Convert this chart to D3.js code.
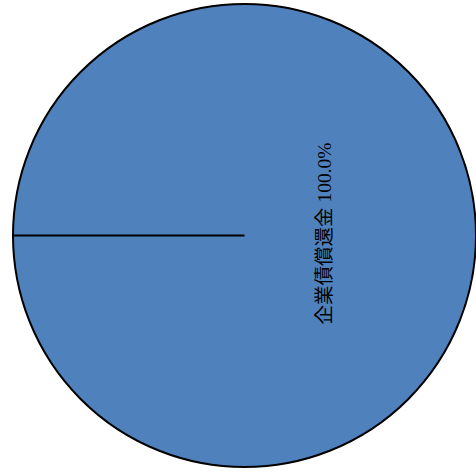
<!DOCTYPE html>
<html>
<head>
<meta charset="utf-8">
<script src="https://cdn.jsdelivr.net/npm/d3@7"></script>
<style>
  html, body { margin: 0; padding: 0; background: #fff; }
</style>
</head>
<body>
<div id="chart"></div>
<script>
const categories = ["企業債償還金"];
const values = [100.0];

const width = 476, height = 472;
const cx = 244.5, cy = 235.5, radius = 231.5;

const svg = d3.select("#chart").append("svg")
  .attr("width", width)
  .attr("height", height);

const g = svg.append("g").attr("transform", `translate(${cx},${cy})`);

const total = d3.sum(values);
const pie = d3.pie()
  .sort(null)
  .startAngle(-Math.PI / 2)
  .endAngle(3 * Math.PI / 2);

const arcs = pie(values);
const arc = d3.arc().innerRadius(0).outerRadius(radius);

g.selectAll("path")
  .data(arcs)
  .join("path")
  .attr("d", arc)
  .attr("fill", "#4f81bd")
  .attr("stroke", "#000")
  .attr("stroke-width", 2);

// slice boundaries (full circle -> only start edge shows)
g.selectAll("line.edge")
  .data(arcs)
  .join("line")
  .attr("class", "edge")
  .attr("x1", 0).attr("y1", 0)
  .attr("x2", (d) => d3.pointRadial(d.startAngle, radius)[0])
  .attr("y2", (d) => d3.pointRadial(d.startAngle, radius)[1])
  .attr("stroke", "#000")
  .attr("stroke-width", 2);

// labels, rotated along the radius
g.selectAll("text")
  .data(arcs)
  .join("text")
  .attr("transform", (d) => {
    const [x, y] = d3.pointRadial((d.startAngle + d.endAngle) / 2, radius * 0.345);
    return `translate(${x},${y - 2}) rotate(-90)`;
  })
  .attr("text-anchor", "middle")
  .attr("dy", "0.35em")
  .attr("font-family", "'Liberation Serif', 'Noto Sans CJK JP', serif")
  .attr("font-size", 19.5)
  .attr("fill", "#000")
  .text((d, i) => `${categories[i]} ${(values[i] / total * 100).toFixed(1)}%`);
</script>
</body>
</html>
